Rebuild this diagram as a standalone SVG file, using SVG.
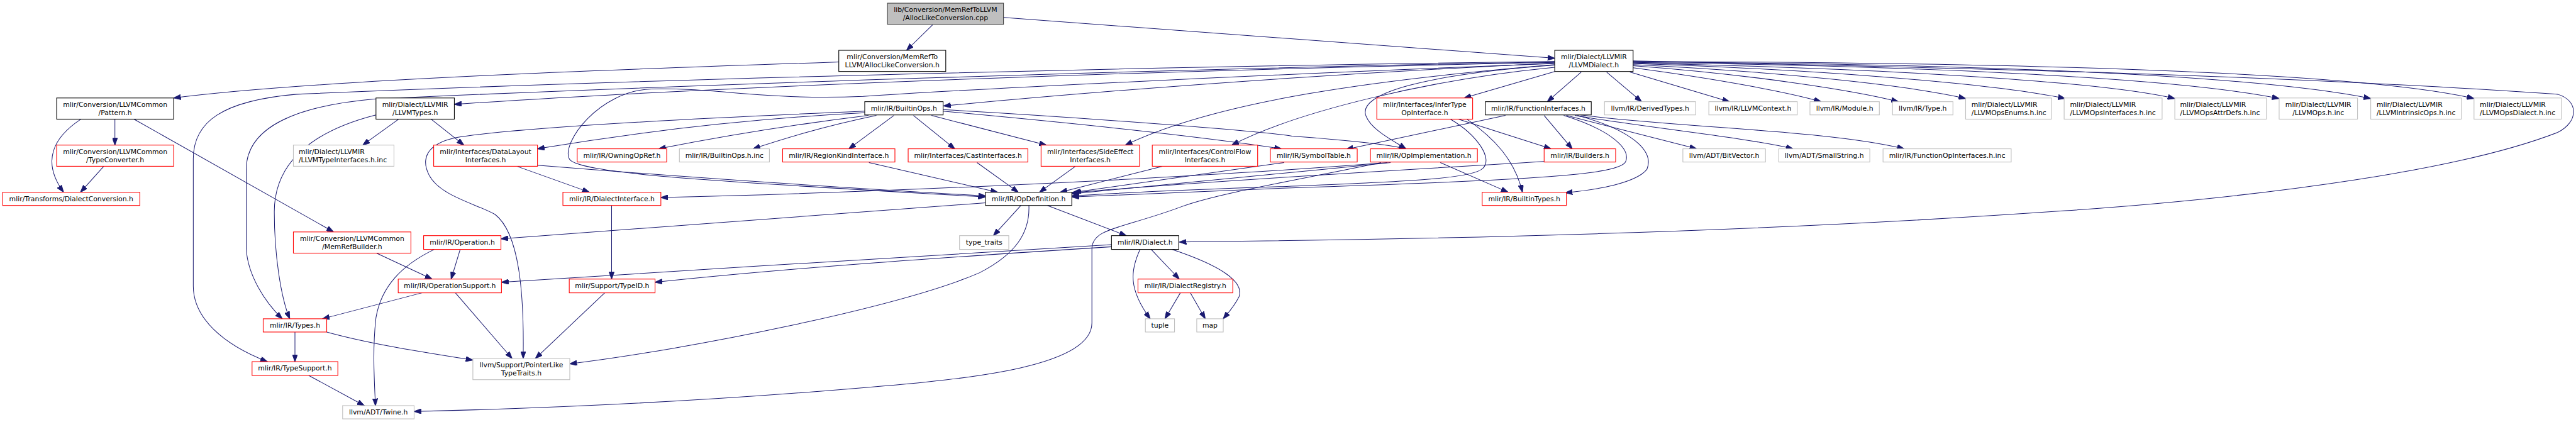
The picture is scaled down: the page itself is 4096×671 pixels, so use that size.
<svg xmlns="http://www.w3.org/2000/svg" width="4096" height="671" viewBox="0 0 4096 671">
<style>
.n rect{fill:#fff;stroke:#000;stroke-width:1.3}
.r rect{fill:#fff;stroke:#ff0000;stroke-width:1.3}
.g rect{fill:#fff;stroke:#bfbfbf;stroke-width:1.3}
.root rect{fill:#bfbfbf;stroke:#404040;stroke-width:1.3}
text{font-family:"DejaVu Sans","Liberation Sans",sans-serif;font-size:12.9px;fill:#000}
.c{text-anchor:middle}
.l{text-anchor:start}
#edges path{fill:none;stroke:#191970;stroke-width:1.2;marker-end:url(#ah)}
</style>
<defs>
<marker id="ah" markerUnits="userSpaceOnUse" markerWidth="14" markerHeight="10" refX="13.5" refY="5" orient="auto" viewBox="0 0 14 10">
<path d="M0,0 L14,5 L0,10 z" fill="#191970" stroke="#191970"/>
</marker>
</defs>
<rect x="0" y="0" width="4096" height="671" fill="#fff"/>
<g transform="scale(0.842)">
<g id="edges">
<path d="M1761,47 L1712,95"/>
<path d="M1895,33 L2936,110"/>
<path d="M1584,117 C1200,130 600,150 328,185"/>
<path d="M217,225 L217,274"/>
<path d="M153,225 C100,260 78,305 120,363"/>
<path d="M196,314 L152,363"/>
<path d="M253,225 L630,438"/>
<path d="M753,225 L685,274"/>
<path d="M814,225 L876,274"/>
<path d="M710,217 C600,245 518,300 518,400 C518,480 530,560 547,602"/>
<path d="M2936,118 C2300,130 1400,160 858,197"/>
<path d="M2936,116 C2200,125 1200,150 560,178 C420,190 365,230 365,300 L365,540 C365,600 420,650 505,683"/>
<path d="M2936,117 C2200,130 1300,160 706,187 C560,200 465,240 465,320 L465,470 C468,520 500,570 533,602"/>
<path d="M2936,119 C2500,140 2100,170 1782,200"/>
<path d="M2936,120 C2400,140 1800,170 1630,182 C1450,190 1350,165 1230,168 C1130,172 1060,270 1075,300 C1090,330 1400,345 1861,372"/>
<path d="M2936,122 C2600,150 2300,190 2125,274"/>
<path d="M2936,127 C2700,150 2450,210 2326,274"/>
<path d="M2936,123 C2700,140 2560,175 2580,220 C2590,245 2630,265 2655,281"/>
<path d="M2936,135 L2765,185"/>
<path d="M2986,136 L2922,192"/>
<path d="M3034,136 L3100,192"/>
<path d="M3078,136 L3266,192"/>
<path d="M3084,128 C3250,150 3380,175 3439,192"/>
<path d="M3084,124 C3300,140 3500,170 3585,192"/>
<path d="M3084,122 C3350,135 3600,160 3712,186"/>
<path d="M3084,120 C3400,130 3750,155 3900,186"/>
<path d="M3084,119 C3500,128 3950,150 4107,186"/>
<path d="M3084,118 C3600,124 4100,145 4304,186"/>
<path d="M3084,117 C3700,120 4250,140 4477,186"/>
<path d="M3084,116 C3800,118 4450,135 4672,186"/>
<path d="M3084,115 C3500,125 4200,135 4830,178 C4870,190 4870,230 4830,250 C4650,320 4300,370 3900,398 C3300,440 2700,452 2227,457"/>
<path d="M2843,218 L2542,282"/>
<path d="M2916,218 L2969,281"/>
<path d="M2979,218 C3080,245 3125,285 3110,320 C3090,345 3020,358 2956,364"/>
<path d="M2953,218 C3040,245 3080,280 3070,305 C3060,330 2900,340 2430,355 C2250,362 2100,368 2024,372"/>
<path d="M2958,218 L3204,281"/>
<path d="M2974,218 C3100,240 3300,260 3386,281"/>
<path d="M2985,217 C3150,240 3450,245 3596,281"/>
<path d="M2754,225 L2929,281"/>
<path d="M2770,225 C2820,260 2860,300 2875,363"/>
<path d="M2739,225 C2790,255 2820,300 2800,318 C2780,340 2600,345 2430,352 C2250,358 2100,365 2024,370"/>
<path d="M2720,307 L2848,363"/>
<path d="M2626,307 C2400,330 2150,355 2024,366"/>
<path d="M2620,307 C2200,340 1600,365 1248,373"/>
<path d="M2608,307 C2450,340 2300,365 2232,390 C2120,432 2062,430 2062,470 L2062,610 C2062,690 1850,715 1620,733 C1300,760 1000,772 782,777"/>
<path d="M2916,305 C2700,318 2300,340 2024,364"/>
<path d="M2425,307 L2028,363"/>
<path d="M2195,314 L2002,363"/>
<path d="M2031,314 L1963,363"/>
<path d="M1845,307 L1923,363"/>
<path d="M1641,307 L1884,363"/>
<path d="M1015,312 C1300,335 1600,355 1861,370"/>
<path d="M976,314 L1113,363"/>
<path d="M1633,213 C1400,225 1200,250 1015,281"/>
<path d="M1640,218 C1500,235 1350,260 1244,281"/>
<path d="M1655,218 C1550,240 1480,262 1422,281"/>
<path d="M1688,218 L1603,281"/>
<path d="M1725,218 L1803,281"/>
<path d="M1759,218 L1976,274"/>
<path d="M1781,210 C2000,230 2250,255 2420,281"/>
<path d="M1781,207 C2100,225 2400,250 2440,257 C2550,265 2620,272 2655,281"/>
<path d="M1633,210 C1200,228 950,245 860,260 C805,272 795,300 810,330 C830,370 900,385 935,405 C980,440 990,550 988,677"/>
<path d="M1155,388 L1155,527"/>
<path d="M1861,383 L946,451"/>
<path d="M1928,388 L1876,445"/>
<path d="M1943,388 C1945,440 1918,480 1850,515 C1700,580 1300,660 1076,687"/>
<path d="M1978,388 L2127,445"/>
<path d="M2099,462 C1800,480 1300,510 947,533"/>
<path d="M2099,466 C1800,485 1500,505 1237,533"/>
<path d="M2174,471 L2227,527"/>
<path d="M2153,471 C2135,510 2130,545 2172,602"/>
<path d="M2213,471 C2300,500 2350,530 2340,560 C2330,580 2320,590 2310,602"/>
<path d="M2229,553 L2200,602"/>
<path d="M2248,553 L2276,602"/>
<path d="M869,471 L852,527"/>
<path d="M820,471 C760,500 720,540 710,600 C703,660 707,720 709,766"/>
<path d="M711,478 L816,527"/>
<path d="M797,553 L609,602"/>
<path d="M860,553 L967,677"/>
<path d="M1142,553 L1011,677"/>
<path d="M557,627 L557,683"/>
<path d="M617,627 C700,650 800,665 893,680"/>
<path d="M583,709 L688,766"/>
</g>
<g id="root" class="root"><rect x="1676" y="6" width="219" height="40"/><text class="c" x="1785.5" y="23">lib/Conversion/MemRefToLLVM</text><text class="c" x="1785.5" y="38">/AllocLikeConversion.cpp</text></g>
<g id="allocH" class="n"><rect x="1584" y="95" width="202" height="40"/><text class="c" x="1685" y="112">mlir/Conversion/MemRefTo</text><text class="c" x="1685" y="127">LLVM/AllocLikeConversion.h</text></g>
<g id="llvmDialect" class="n"><rect x="2936" y="95" width="148" height="40"/><text class="c" x="3010" y="112">mlir/Dialect/LLVMIR</text><text class="c" x="3010" y="127">/LLVMDialect.h</text></g>
<g id="pattern" class="n"><rect x="107" y="185" width="221" height="40"/><text class="c" x="217.5" y="202">mlir/Conversion/LLVMCommon</text><text class="c" x="217.5" y="217">/Pattern.h</text></g>
<g id="typeConv" class="r"><rect x="107" y="274" width="221" height="40"/><text class="c" x="217.5" y="291">mlir/Conversion/LLVMCommon</text><text class="c" x="217.5" y="306">/TypeConverter.h</text></g>
<g id="dialConv" class="r"><rect x="5" y="363" width="259" height="25"/><text class="c" x="134.5" y="380">mlir/Transforms/DialectConversion.h</text></g>
<g id="llvmTypes" class="n"><rect x="710" y="185" width="148" height="40"/><text class="c" x="784" y="202">mlir/Dialect/LLVMIR</text><text class="c" x="784" y="217">/LLVMTypes.h</text></g>
<g id="typeIfInc" class="g"><rect x="554" y="274" width="190" height="40"/><text class="l" x="564" y="291">mlir/Dialect/LLVMIR</text><text class="l" x="564" y="306">/LLVMTypeInterfaces.h.inc</text></g>
<g id="dataLayout" class="r"><rect x="819" y="274" width="196" height="40"/><text class="c" x="917" y="291">mlir/Interfaces/DataLayout</text><text class="c" x="917" y="306">Interfaces.h</text></g>
<g id="owningOpRef" class="r"><rect x="1090" y="281" width="169" height="25"/><text class="c" x="1174.5" y="298">mlir/IR/OwningOpRef.h</text></g>
<g id="builtinOpsInc" class="g"><rect x="1283" y="281" width="170" height="25"/><text class="c" x="1368" y="298">mlir/IR/BuiltinOps.h.inc</text></g>
<g id="regionKind" class="r"><rect x="1478" y="281" width="212" height="25"/><text class="c" x="1584" y="298">mlir/IR/RegionKindInterface.h</text></g>
<g id="dialectIf" class="r"><rect x="1063" y="363" width="185" height="25"/><text class="c" x="1155.5" y="380">mlir/IR/DialectInterface.h</text></g>
<g id="builtinOps" class="n"><rect x="1633" y="192" width="148" height="25"/><text class="c" x="1707" y="209">mlir/IR/BuiltinOps.h</text></g>
<g id="castIf" class="r"><rect x="1715" y="281" width="226" height="25"/><text class="c" x="1828" y="298">mlir/Interfaces/CastInterfaces.h</text></g>
<g id="sideEffect" class="r"><rect x="1966" y="274" width="186" height="40"/><text class="c" x="2059" y="291">mlir/Interfaces/SideEffect</text><text class="c" x="2059" y="306">Interfaces.h</text></g>
<g id="controlFlow" class="r"><rect x="2176" y="274" width="199" height="40"/><text class="c" x="2275.5" y="291">mlir/Interfaces/ControlFlow</text><text class="c" x="2275.5" y="306">Interfaces.h</text></g>
<g id="symbolTable" class="r"><rect x="2399" y="281" width="164" height="25"/><text class="c" x="2481" y="298">mlir/IR/SymbolTable.h</text></g>
<g id="opDef" class="n"><rect x="1861" y="363" width="163" height="25"/><text class="c" x="1942.5" y="380">mlir/IR/OpDefinition.h</text></g>
<g id="inferType" class="r"><rect x="2600" y="185" width="181" height="40"/><text class="c" x="2690.5" y="202">mlir/Interfaces/InferType</text><text class="c" x="2690.5" y="217">OpInterface.h</text></g>
<g id="funcIf" class="n"><rect x="2805" y="192" width="200" height="25"/><text class="c" x="2905" y="209">mlir/IR/FunctionInterfaces.h</text></g>
<g id="derivedTypes" class="g"><rect x="3030" y="192" width="172" height="25"/><text class="c" x="3116" y="209">llvm/IR/DerivedTypes.h</text></g>
<g id="llvmContext" class="g"><rect x="3227" y="192" width="167" height="25"/><text class="c" x="3310.5" y="209">llvm/IR/LLVMContext.h</text></g>
<g id="module" class="g"><rect x="3418" y="192" width="131" height="25"/><text class="c" x="3483.5" y="209">llvm/IR/Module.h</text></g>
<g id="type" class="g"><rect x="3574" y="192" width="114" height="25"/><text class="c" x="3631" y="209">llvm/IR/Type.h</text></g>
<g id="opsEnums" class="g"><rect x="3712" y="185" width="162" height="40"/><text class="l" x="3723" y="202">mlir/Dialect/LLVMIR</text><text class="l" x="3723" y="217">/LLVMOpsEnums.h.inc</text></g>
<g id="opsIfaces" class="g"><rect x="3898" y="185" width="185" height="40"/><text class="l" x="3909" y="202">mlir/Dialect/LLVMIR</text><text class="l" x="3909" y="217">/LLVMOpsInterfaces.h.inc</text></g>
<g id="opsAttr" class="g"><rect x="4107" y="185" width="173" height="40"/><text class="l" x="4117" y="202">mlir/Dialect/LLVMIR</text><text class="l" x="4117" y="217">/LLVMOpsAttrDefs.h.inc</text></g>
<g id="llvmOps" class="g"><rect x="4304" y="185" width="148" height="40"/><text class="c" x="4378" y="202">mlir/Dialect/LLVMIR</text><text class="c" x="4378" y="217">/LLVMOps.h.inc</text></g>
<g id="intrinsic" class="g"><rect x="4477" y="185" width="171" height="40"/><text class="l" x="4488" y="202">mlir/Dialect/LLVMIR</text><text class="l" x="4488" y="217">/LLVMIntrinsicOps.h.inc</text></g>
<g id="opsDialect" class="g"><rect x="4672" y="185" width="165" height="40"/><text class="l" x="4683" y="202">mlir/Dialect/LLVMIR</text><text class="l" x="4683" y="217">/LLVMOpsDialect.h.inc</text></g>
<g id="opImpl" class="r"><rect x="2588" y="281" width="202" height="25"/><text class="c" x="2689" y="298">mlir/IR/OpImplementation.h</text></g>
<g id="builders" class="r"><rect x="2916" y="281" width="135" height="25"/><text class="c" x="2983.5" y="298">mlir/IR/Builders.h</text></g>
<g id="bitVector" class="g"><rect x="3178" y="281" width="156" height="25"/><text class="c" x="3256" y="298">llvm/ADT/BitVector.h</text></g>
<g id="smallString" class="g"><rect x="3359" y="281" width="172" height="25"/><text class="c" x="3445" y="298">llvm/ADT/SmallString.h</text></g>
<g id="funcOpInc" class="g"><rect x="3556" y="281" width="242" height="25"/><text class="c" x="3677" y="298">mlir/IR/FunctionOpInterfaces.h.inc</text></g>
<g id="builtinTypes" class="r"><rect x="2799" y="363" width="159" height="25"/><text class="c" x="2878.5" y="380">mlir/IR/BuiltinTypes.h</text></g>
<g id="memRefBuilder" class="r"><rect x="554" y="438" width="222" height="40"/><text class="c" x="665" y="455">mlir/Conversion/LLVMCommon</text><text class="c" x="665" y="470">/MemRefBuilder.h</text></g>
<g id="operation" class="r"><rect x="800" y="445" width="146" height="26"/><text class="c" x="873" y="462">mlir/IR/Operation.h</text></g>
<g id="opSupport" class="r"><rect x="752" y="527" width="195" height="26"/><text class="c" x="849.5" y="544">mlir/IR/OperationSupport.h</text></g>
<g id="types" class="r"><rect x="497" y="602" width="120" height="25"/><text class="c" x="557" y="619">mlir/IR/Types.h</text></g>
<g id="typeSupport" class="r"><rect x="476" y="683" width="162" height="26"/><text class="c" x="557" y="700">mlir/IR/TypeSupport.h</text></g>
<g id="twine" class="g"><rect x="647" y="766" width="135" height="25"/><text class="c" x="714.5" y="783">llvm/ADT/Twine.h</text></g>
<g id="typeID" class="r"><rect x="1075" y="527" width="162" height="26"/><text class="c" x="1156" y="544">mlir/Support/TypeID.h</text></g>
<g id="pointerLike" class="g"><rect x="893" y="677" width="183" height="40"/><text class="c" x="984.5" y="694">llvm/Support/PointerLike</text><text class="c" x="984.5" y="709">TypeTraits.h</text></g>
<g id="typeTraits" class="g"><rect x="1812" y="445" width="93" height="26"/><text class="c" x="1858.5" y="462">type_traits</text></g>
<g id="dialectH" class="n"><rect x="2099" y="445" width="127" height="26"/><text class="c" x="2162.5" y="462">mlir/IR/Dialect.h</text></g>
<g id="dialectReg" class="r"><rect x="2149" y="527" width="179" height="26"/><text class="c" x="2238.5" y="544">mlir/IR/DialectRegistry.h</text></g>
<g id="tuple" class="g"><rect x="2163" y="602" width="55" height="25"/><text class="c" x="2190.5" y="619">tuple</text></g>
<g id="map" class="g"><rect x="2260" y="602" width="50" height="25"/><text class="c" x="2285" y="619">map</text></g>
</g>
</svg>
